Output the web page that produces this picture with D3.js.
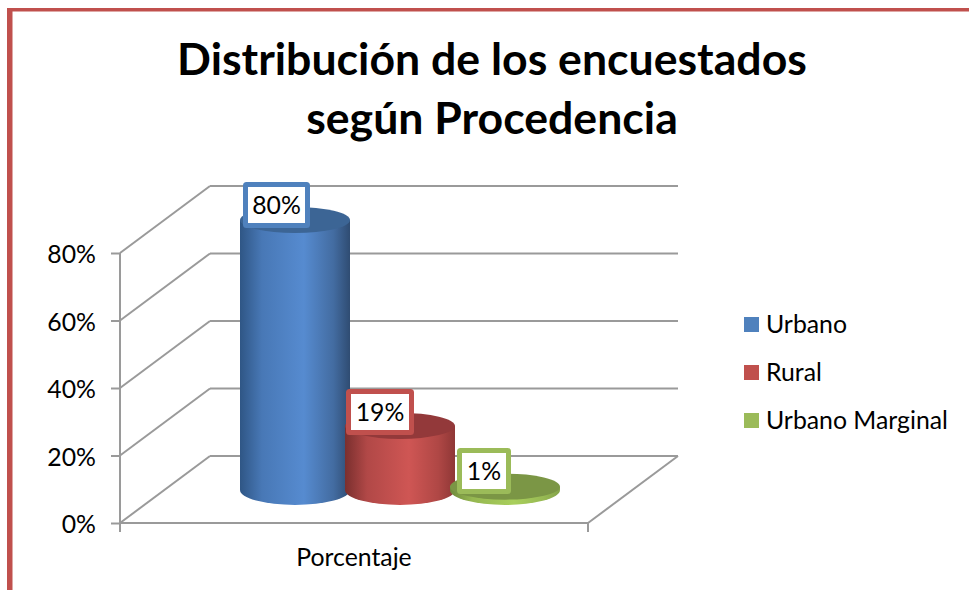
<!DOCTYPE html>
<html><head><meta charset="utf-8">
<script src="https://cdn.jsdelivr.net/npm/d3@7/dist/d3.min.js"></script>
<style>html,body{margin:0;padding:0;background:#fff}svg{display:block}text{font-family:Lato,"Open Sans",sans-serif;fill:#000}</style>
</head><body><svg id="c" width="969" height="590"></svg>
<script>
const titleLines = ["Distribución de los encuestados", "según Procedencia"];
const categoryLabel = ["Porcentaje"];
const seriesNames = ["Urbano", "Rural", "Urbano Marginal"];
const seriesValues = [80, 19, 1];
const dataLabels = ["80%", "19%", "1%"];
const yTicks = [0, 20, 40, 60, 80];

const frameColor = "#c0504d", gridColor = "#9a9a9a";
const palette = [
 {base:"#4f81bd",top:"#3c6595",edge0:"#2f5685",mid:"#568bd0",edge1:"#2f4c72"},
 {base:"#c0504d",top:"#93393a",edge0:"#7a2f2e",mid:"#cf5654",edge1:"#8f3736"},
 {base:"#9bbb59",top:"#7b9645",edge0:"#6f8a3c",mid:"#a9cf5c",edge1:"#84a34a"}
];
const labelBoxes = [{x:243,y:182,w:67,h:46},{x:346,y:389,w:68,h:46},{x:457,y:448,w:54,h:46}];

const svg = d3.select("#c");
const y = d3.scaleLinear().domain([0,80]).range([523,253]);
const depthX = 90, depthY = -67;
const plotLeft = 120, plotRight = 588;
const xCyl = d3.scalePoint().domain(seriesNames).range([295,505]);
const rx = 55, ryTop = 13, ryBot = 15, floorOffset = -33;
const bodySize = 24.8;

// frame
svg.append("rect").attr("x",7).attr("y",8).attr("width",962).attr("height",3.5).attr("fill",frameColor);
svg.append("rect").attr("x",7).attr("y",8).attr("width",5.5).attr("height",582).attr("fill",frameColor);

// title
svg.append("g").selectAll("text").data(titleLines).join("text")
  .attr("x",492).attr("y",(d,i)=>75+i*59).attr("text-anchor","middle")
  .attr("font-size",44.6).attr("font-weight",700).text(d=>d);

// walls
const g = svg.append("g").attr("stroke",gridColor).attr("stroke-width",2).attr("fill","none");
yTicks.forEach(t=>{
  const yy=y(t);
  g.append("line").attr("x1",plotLeft).attr("y1",yy).attr("x2",plotLeft+depthX).attr("y2",yy+depthY);
  g.append("line").attr("x1",plotLeft+depthX).attr("y1",yy+depthY).attr("x2",plotRight+depthX).attr("y2",yy+depthY);
});
g.append("line").attr("x1",plotLeft).attr("y1",y(0)).attr("x2",plotRight).attr("y2",y(0));
g.append("line").attr("x1",plotRight).attr("y1",y(0)).attr("x2",plotRight+depthX).attr("y2",y(0)+depthY);
g.append("line").attr("x1",plotRight).attr("y1",y(0)).attr("x2",plotRight).attr("y2",y(0)+9);

// y axis
const axis = d3.axisLeft(y).tickValues(yTicks).tickFormat(d=>d+"%").tickSize(9).tickPadding(15);
const ax = svg.append("g").attr("transform",`translate(${plotLeft},0)`).call(axis);
ax.select(".domain").remove();
ax.selectAll("line").attr("stroke",gridColor).attr("stroke-width",2);
ax.selectAll("text").attr("font-size",bodySize).attr("font-family","Lato").attr("fill","#000").attr("dy","0.4em");
svg.append("line").attr("x1",plotLeft).attr("x2",plotLeft).attr("y1",y(80)).attr("y2",y(0)+9)
  .attr("stroke",gridColor).attr("stroke-width",2);

svg.append("text").attr("x",(plotLeft+plotRight)/2).attr("y",566).attr("text-anchor","middle")
  .attr("font-size",bodySize).text(categoryLabel[0]);

// gradients
const defs = svg.append("defs");
palette.forEach((p,i)=>{
  const lg = defs.append("linearGradient").attr("id","side"+i);
  [[0,p.edge0],[0.2,d3.interpolateRgb(p.edge0,p.mid)(0.65)],[0.58,p.mid],[0.85,d3.interpolateRgb(p.mid,p.edge1)(0.5)],[1,p.edge1]]
   .forEach(([o,c])=>lg.append("stop").attr("offset",o).attr("stop-color",c));
});

// cylinders
const cyl = svg.append("g");
seriesNames.forEach((n,i)=>{
  const cx = xCyl(n), yb = y(0)+floorOffset, yt = y(seriesValues[i])+floorOffset;
  cyl.append("path")
    .attr("d",`M${cx-rx},${yt}L${cx-rx},${yb}A${rx},${ryBot} 0 0 0 ${cx+rx},${yb}L${cx+rx},${yt}Z`)
    .attr("fill",`url(#side${i})`);
  cyl.append("ellipse").attr("cx",cx).attr("cy",yt).attr("rx",rx).attr("ry",ryTop).attr("fill",palette[i].top);
});

// data labels
const lab = svg.append("g");
seriesNames.forEach((n,i)=>{
  const b = labelBoxes[i];
  lab.append("rect").attr("x",b.x+2.5).attr("y",b.y+2.5).attr("width",b.w-5).attr("height",b.h-5).attr("rx",1)
    .attr("fill","#fff").attr("stroke",palette[i].base).attr("stroke-width",5);
  lab.append("text").attr("x",b.x+b.w/2).attr("y",b.y+b.h/2+9).attr("text-anchor","middle")
    .attr("font-size",bodySize).text(dataLabels[i]);
});

// legend
const lg = svg.append("g");
seriesNames.forEach((n,i)=>{
  const yy = 317+i*48;
  lg.append("rect").attr("x",744).attr("y",yy).attr("width",15).attr("height",15).attr("fill",palette[i].base);
  lg.append("text").attr("x",766).attr("y",yy+15.5).attr("font-size",bodySize).text(n);
});
</script></body></html>
